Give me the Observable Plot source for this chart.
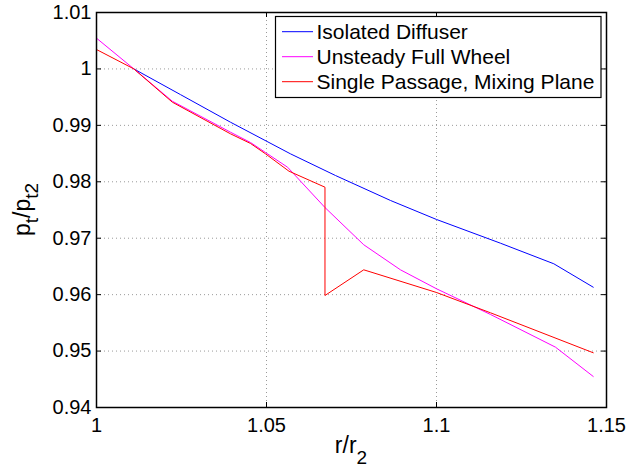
<!DOCTYPE html>
<html>
<head>
<meta charset="utf-8">
<script src="https://cdn.jsdelivr.net/npm/d3@7"></script>
<script src="https://cdn.jsdelivr.net/npm/@observablehq/plot@0.6"></script>
<style>
  html, body { margin: 0; padding: 0; background: #ffffff; }
  #chart svg { display: block; }
</style>
</head>
<body>
<div id="chart"></div>
<script>
// ---- data ----
const seriesNames = ["Isolated Diffuser", "Unsteady Full Wheel", "Single Passage, Mixing Plane"];
const seriesColors = ["#0000ff", "#ff00ff", "#ff0000"];

const isolatedX = [1.011, 1.0247, 1.0394, 1.0571, 1.0703, 1.0865, 1.1, 1.1188, 1.1345, 1.1461];
const isolatedY = [1.0000, 0.99545, 0.99056, 0.98494, 0.98111, 0.97668, 0.97332, 0.96912, 0.96547, 0.96132];

const unsteadyX = [1.0, 1.011, 1.0223, 1.0394, 1.0453, 1.0497, 1.0562, 1.0672, 1.0786, 1.0894, 1.1, 1.1159, 1.135, 1.1461];
const unsteadyY = [1.00545, 1.0000, 0.99428, 0.98879, 0.98696, 0.98519, 0.98258, 0.97544, 0.96884, 0.96440, 0.96104, 0.95648, 0.95069, 0.94550];

const mixingX = [1.0, 1.011, 1.0223, 1.0394, 1.0453, 1.0497, 1.0566, 1.0672, 1.0672, 1.0786, 1.1, 1.1159, 1.1461];
const mixingY = [1.00344, 1.0000, 0.99411, 0.98850, 0.98679, 0.98496, 0.98188, 0.97904, 0.95985, 0.96440, 0.96038, 0.95678, 0.94970];

const xTicks = [1, 1.05, 1.1, 1.15];
const xTickLabels = ["1", "1.05", "1.1", "1.15"];
const yTicks = [0.94, 0.95, 0.96, 0.97, 0.98, 0.99, 1.0, 1.01];
const yTickLabels = ["0.94", "0.95", "0.96", "0.97", "0.98", "0.99", "1", "1.01"];

// ---- build table ----
const seriesX = [isolatedX, unsteadyX, mixingX];
const seriesY = [isolatedY, unsteadyY, mixingY];
const rows = [];
seriesNames.forEach((name, s) => {
  seriesX[s].forEach((x, i) => rows.push({series: name, x, y: seriesY[s][i], order: i}));
});

const W = 628, H = 469;
const mL = 96, mR = 22, mT = 12, mB = 62;
const plotW = W - mL - mR, plotH = H - mT - mB;
const tickLen = 5;
const FONT = "'Liberation Sans', Arial, Helvetica, sans-serif";

const plot = Plot.plot({
  width: W, height: H,
  marginLeft: mL, marginRight: mR, marginTop: mT, marginBottom: mB,
  style: {fontFamily: FONT, fontSize: "20px", color: "black", background: "white"},
  x: {domain: [1, 1.15], ticks: xTicks, tickFormat: d => xTickLabels[xTicks.indexOf(d)], tickSize: 0, tickPadding: 10, label: null},
  y: {domain: [0.94, 1.01], ticks: yTicks, tickFormat: d => yTickLabels[yTicks.indexOf(d)], tickSize: 0, tickPadding: 5, label: null},
  color: {domain: seriesNames, range: seriesColors},
  marks: [
    Plot.ruleX(xTicks.slice(1, -1), {x: d => d, stroke: "#9a9a9a", strokeDasharray: "1,3"}),
    Plot.ruleY(yTicks.slice(1, -1), {y: d => d, stroke: "#9a9a9a", strokeDasharray: "1,3"}),
    Plot.tickX(xTicks, {x: d => d, insetTop: plotH - tickLen, stroke: "black"}),
    Plot.tickX(xTicks, {x: d => d, insetBottom: plotH - tickLen, stroke: "black"}),
    Plot.tickY(yTicks, {y: d => d, insetRight: plotW - tickLen, stroke: "black"}),
    Plot.tickY(yTicks, {y: d => d, insetLeft: plotW - tickLen, stroke: "black"}),
    Plot.line(rows, {x: "x", y: "y", z: "series", stroke: "series", strokeWidth: 1}),
    Plot.frame({stroke: "black", strokeWidth: 1.5})
  ]
});

document.getElementById("chart").appendChild(plot);

// ---- axis labels with subscripts ----
const svg = d3.select(plot);
const xs = plot.scale("x"), ys = plot.scale("y");
const cx = (xs.range[0] + xs.range[1]) / 2;
const cy = (ys.range[0] + ys.range[1]) / 2;

const xl = svg.append("text")
  .attr("x", cx).attr("y", 453)
  .attr("text-anchor", "middle")
  .attr("font-family", FONT).attr("font-size", 23).attr("fill", "black");
xl.append("tspan").text("r/r");
xl.append("tspan").attr("font-size", 19).attr("dy", 11).text("2");

const yl = svg.append("text")
  .attr("transform", `translate(30,${cy}) rotate(-90)`)
  .attr("text-anchor", "middle")
  .attr("font-family", FONT).attr("font-size", 23).attr("fill", "black");
yl.append("tspan").text("p");
yl.append("tspan").attr("font-size", 19).attr("dy", 8).text("t");
yl.append("tspan").attr("dy", -8).text("/p");
yl.append("tspan").attr("font-size", 19).attr("dy", 8).text("t2");

// ---- legend ----
const lg = svg.append("g").attr("font-family", FONT).attr("font-size", 21).attr("text-anchor", "start");
lg.append("rect")
  .attr("x", 275.5).attr("y", 16.5).attr("width", 325.5).attr("height", 81)
  .attr("fill", "white").attr("stroke", "black").attr("stroke-width", 1.2);
seriesNames.forEach((name, i) => {
  const y = 31.7 + 25 * i;
  lg.append("line").attr("x1", 282).attr("x2", 313).attr("y1", y).attr("y2", y)
    .attr("stroke", seriesColors[i]).attr("stroke-width", 1);
  lg.append("text").attr("x", 316.5).attr("y", y).attr("dy", "0.36em")
    .attr("text-anchor", "start").attr("fill", "black").text(name);
});
</script>
</body>
</html>
